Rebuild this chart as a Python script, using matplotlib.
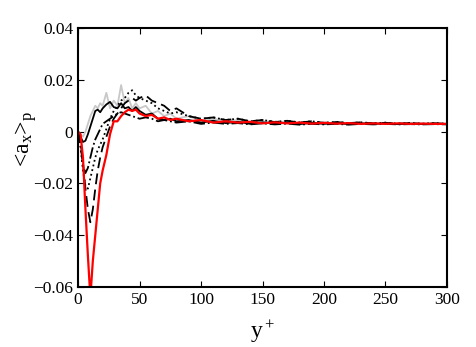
import matplotlib
matplotlib.use("Agg")
import matplotlib.pyplot as plt

plt.rcParams['font.family'] = ['Liberation Serif', 'DejaVu Serif']
plt.rcParams['mathtext.fontset'] = 'custom'
plt.rcParams['mathtext.rm'] = 'Liberation Serif'
plt.rcParams['mathtext.it'] = 'Liberation Serif'

yplus = [0, 2, 4, 6, 8, 10, 12, 14, 16, 18, 20, 23, 26, 29, 32, 35, 38, 41, 44, 47,
         50, 55, 60, 65, 70, 75, 80, 90, 100, 110, 120, 130, 140, 150, 160, 170,
         180, 190, 200, 210, 220, 230, 240, 250, 260, 270, 280, 290, 300]

grey = [0.000, -0.001, -0.002, 0.000, 0.003, 0.006, 0.008, 0.010, 0.009, 0.011,
        0.010, 0.015, 0.009, 0.012, 0.010, 0.018, 0.011, 0.013, 0.009, 0.011,
        0.009, 0.010, 0.007, 0.008, 0.006, 0.007, 0.005, 0.006, 0.004, 0.005,
        0.004, 0.0045, 0.0035, 0.004, 0.0035, 0.004, 0.003, 0.0035, 0.0032, 0.0036,
        0.003, 0.0034, 0.0031, 0.0033, 0.003, 0.0032, 0.003, 0.0031, 0.003]

solid = [0.000, -0.002, -0.004, -0.0035, -0.001, 0.002, 0.005, 0.008, 0.0085, 0.0075,
         0.009, 0.0105, 0.0115, 0.0095, 0.009, 0.011, 0.009, 0.0095, 0.008, 0.0095,
         0.008, 0.0065, 0.007, 0.005, 0.0045, 0.005, 0.004, 0.0045, 0.0035, 0.0042,
         0.0033, 0.0038, 0.003, 0.0036, 0.0031, 0.0035, 0.0029, 0.0034, 0.003, 0.0033,
         0.0029, 0.0032, 0.003, 0.0032, 0.0029, 0.0031, 0.003, 0.0031, 0.003]

dotted = [0.000, -0.006, -0.015, -0.021, -0.022, -0.018, -0.014, -0.010, -0.007, -0.005,
          -0.003, 0.001, 0.005, 0.008, 0.010, 0.012, 0.013, 0.015, 0.016, 0.014,
          0.013, 0.012, 0.011, 0.009, 0.008, 0.007, 0.0075, 0.006, 0.005, 0.0055,
          0.0045, 0.005, 0.004, 0.0045, 0.0038, 0.0042, 0.0036, 0.004, 0.0034, 0.0038,
          0.0033, 0.0036, 0.0032, 0.0035, 0.0031, 0.0034, 0.0031, 0.0033, 0.0031]

dashed = [0.000, -0.004, -0.012, -0.022, -0.030, -0.035, -0.030, -0.022, -0.015, -0.010,
          -0.006, -0.002, 0.002, 0.005, 0.007, 0.009, 0.011, 0.012, 0.013, 0.012,
          0.013, 0.014, 0.012, 0.011, 0.010, 0.008, 0.009, 0.006, 0.005, 0.0055,
          0.0045, 0.005, 0.004, 0.0045, 0.0037, 0.0042, 0.0035, 0.004, 0.0034, 0.0037,
          0.0033, 0.0036, 0.0032, 0.0034, 0.0031, 0.0033, 0.003, 0.0032, 0.003]

dashdot = [0.000, -0.005, -0.013, -0.016, -0.014, -0.010, -0.006, -0.003, -0.001, 0.001,
           0.003, 0.004, 0.005, 0.006, 0.007, 0.0075, 0.007, 0.0065, 0.006, 0.0055,
           0.005, 0.0055, 0.005, 0.004, 0.0045, 0.004, 0.0035, 0.004, 0.003, 0.0035,
           0.003, 0.0033, 0.0028, 0.0032, 0.0028, 0.0031, 0.0027, 0.003, 0.0028, 0.003,
           0.0027, 0.003, 0.0028, 0.003, 0.0028, 0.0029, 0.0028, 0.0029, 0.0028]

red = [0.000, -0.001, -0.010, -0.030, -0.048, -0.064, -0.050, -0.040, -0.030, -0.020,
       -0.015, -0.009, -0.001, 0.004, 0.004, 0.006, 0.0075, 0.0085, 0.008, 0.0085,
       0.007, 0.006, 0.0065, 0.005, 0.0055, 0.0045, 0.005, 0.004, 0.0045, 0.0035,
       0.004, 0.0035, 0.0038, 0.0032, 0.0036, 0.0032, 0.0035, 0.0031, 0.0034, 0.0031,
       0.0033, 0.003, 0.0032, 0.003, 0.0032, 0.003, 0.0031, 0.003, 0.003]

xticks = [0, 50, 100, 150, 200, 250, 300]
yticks = [-0.06, -0.04, -0.02, 0, 0.02, 0.04]
yticklabels = ['\u22120.06', '\u22120.04', '\u22120.02', '0', '0.02', '0.04']

fig = plt.figure(figsize=(4.76, 3.47), dpi=100)
ax = fig.add_axes([0.164, 0.173, 0.775, 0.746])

ax.plot(yplus, grey, color='#c8c8c8', lw=1.3)
ax.plot(yplus, solid, color='black', lw=1.3, ls='-')
ax.plot(yplus, dotted, color='black', lw=1.3, ls=':')
ax.plot(yplus, dashed, color='black', lw=1.3, ls=(0, (6, 3)))
ax.plot(yplus, dashdot, color='black', lw=1.3, ls='-.')
ax.plot(yplus, red, color='red', lw=1.6, ls='-')

ax.set_xlim(0, 300)
ax.set_ylim(-0.06, 0.04)
ax.set_xticks(xticks)
ax.set_xticklabels([str(t) for t in xticks])
ax.set_yticks(yticks)
ax.set_yticklabels(yticklabels)
ax.tick_params(direction='in', top=True, right=True, length=4, width=0.8, labelsize=12.5)
for s in ax.spines.values():
    s.set_linewidth(1.5)

ax.set_xlabel(r'y$^+$', fontsize=17)
ax.xaxis.set_label_coords(0.5, -0.12)
ax.set_ylabel(r'<a$_{\mathregular{x}}$>$_{\mathregular{p}}$', fontsize=17)
ax.yaxis.set_label_coords(-0.105, 0.57)

fig.savefig('out.png', dpi=100)
